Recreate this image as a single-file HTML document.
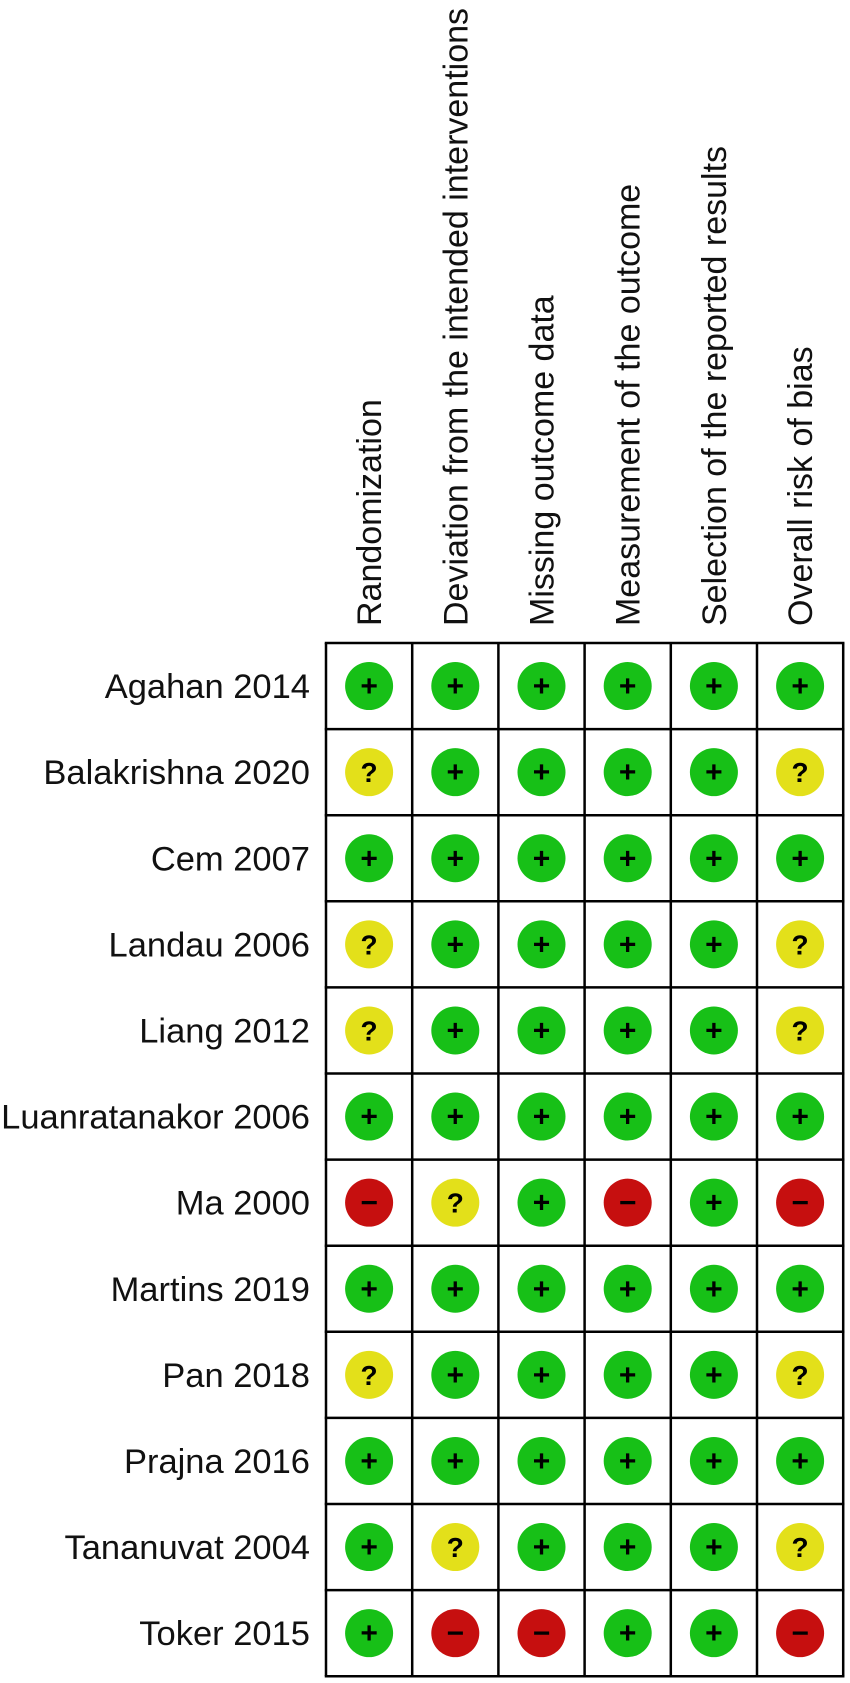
<!DOCTYPE html>
<html><head><meta charset="utf-8"><style>
html,body{margin:0;padding:0;background:#fff;}
svg{display:block;font-family:"Liberation Sans",Arial,sans-serif;}
</style></head><body>
<svg id="chart" width="850" height="1683" viewBox="0 0 850 1683" xmlns="http://www.w3.org/2000/svg"></svg>
<script>
const domains = ["Randomization","Deviation from the intended interventions","Missing outcome data","Measurement of the outcome","Selection of the reported results","Overall risk of bias"];
const studies = ["Agahan 2014","Balakrishna 2020","Cem 2007","Landau 2006","Liang 2012","Luanratanakor 2006","Ma 2000","Martins 2019","Pan 2018","Prajna 2016","Tananuvat 2004","Toker 2015"];
const judgements = [
 ["+","+","+","+","+","+"],
 ["?","+","+","+","+","?"],
 ["+","+","+","+","+","+"],
 ["?","+","+","+","+","?"],
 ["?","+","+","+","+","?"],
 ["+","+","+","+","+","+"],
 ["-","?","+","-","+","-"],
 ["+","+","+","+","+","+"],
 ["?","+","+","+","+","?"],
 ["+","+","+","+","+","+"],
 ["+","?","+","+","+","?"],
 ["+","-","-","+","+","-"]
];
const svgEl = document.getElementById('chart');
const NS = "http://www.w3.org/2000/svg";
const gx = 326, gy = 643, cw = 86.2, ch = 86.1;
const colX = i => gx + cw*(i+0.5);
const rowY = j => gy + ch*(j+0.5);
function mk(tag, attrs){const e=document.createElementNS(NS,tag);for(const k in attrs)e.setAttribute(k,attrs[k]);svgEl.appendChild(e);return e;}
const fills = {"+":"#17c017","?":"#e3e01a","-":"#c60f0f"};
const names = {"+":"low","?":"some-concerns","-":"high"};
domains.forEach((d,i)=>{
  const x = colX(i)+12, y = 626;
  const t = mk('text',{x:x,y:y,transform:`rotate(-90 ${x} ${y})`,'font-size':34,fill:'#111'});
  t.textContent = d;
  
  
});
studies.forEach((s,j)=>{
  const t = mk('text',{x:310,y:rowY(j)+12,'text-anchor':'end','font-size':34.5,fill:'#111'});
  t.textContent = s;
  
  
});
for(let i=0;i<=domains.length;i++){
  const l = mk('line',{x1:gx+cw*i,y1:gy,x2:gx+cw*i,y2:gy+ch*studies.length,stroke:'#000','stroke-width':2.5});
  
  
}
for(let j=0;j<=studies.length;j++){
  const l = mk('line',{x1:gx-1.25,y1:gy+ch*j,x2:gx+cw*domains.length+1.25,y2:gy+ch*j,stroke:'#000','stroke-width':2.5});
  
  
}
judgements.forEach((row,j)=>row.forEach((v,i)=>{
  const cx = colX(i), cy = rowY(j);
  const c = mk('circle',{cx:cx,cy:cy,r:24,fill:fills[v]});
  
  
  const t = mk('text',{x:cx,y:cy+10,'text-anchor':'middle','font-size':v==='?'?28:30,'font-weight':'bold',fill:'#000'});
  t.textContent = v==='-' ? '−' : v;
  
  
}));
</script>
</body></html>
